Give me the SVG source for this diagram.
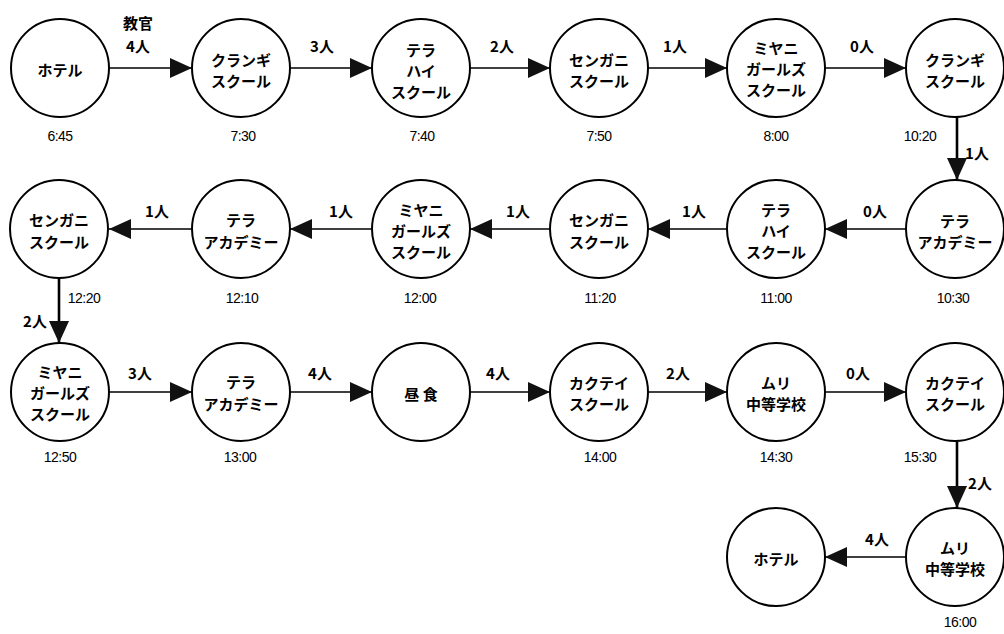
<svg xmlns="http://www.w3.org/2000/svg" width="1004" height="634" viewBox="0 0 1004 634">
<defs>
<style>
.n circle{fill:#fff;stroke:#000;stroke-width:2}
.n text,.lbl{font-family:"Noto Sans CJK JP","Liberation Sans",sans-serif;font-weight:bold;font-size:15px;fill:#000;text-anchor:middle;dominant-baseline:central}
.n text.t{font-family:"Liberation Sans","Noto Sans CJK JP",sans-serif;font-weight:normal;font-size:14px;letter-spacing:-0.5px}
.e{stroke:#000;stroke-width:1.3;fill:none}
.v{stroke:#000;stroke-width:2.6;fill:none}
.ah{fill:#111}
</style>
<marker id="a" viewBox="0 0 22 20" refX="22" refY="10" markerWidth="22" markerHeight="20" markerUnits="userSpaceOnUse" orient="auto">
<path class="ah" d="M0,0 L22,10 L0,20 Z"/>
</marker>
</defs>
<rect width="1004" height="634" fill="#fff"/>

<g id="connectors">
<line class="e" x1="109" y1="68" x2="192" y2="68" marker-end="url(#a)"/>
<line class="e" x1="290" y1="68" x2="372" y2="68" marker-end="url(#a)"/>
<line class="e" x1="470" y1="68" x2="550" y2="68" marker-end="url(#a)"/>
<line class="e" x1="648" y1="68" x2="727" y2="68" marker-end="url(#a)"/>
<line class="e" x1="825" y1="68" x2="906" y2="68" marker-end="url(#a)"/>
<line class="v" x1="957" y1="117" x2="957" y2="180" marker-end="url(#a)"/>
<line class="e" x1="906" y1="229" x2="825" y2="229" marker-end="url(#a)"/>
<line class="e" x1="727" y1="229" x2="648" y2="229" marker-end="url(#a)"/>
<line class="e" x1="550" y1="229" x2="470" y2="229" marker-end="url(#a)"/>
<line class="e" x1="372" y1="229" x2="290" y2="229" marker-end="url(#a)"/>
<line class="e" x1="192" y1="229" x2="109" y2="229" marker-end="url(#a)"/>
<line class="v" x1="59" y1="278" x2="59" y2="343" marker-end="url(#a)"/>
<line class="e" x1="109" y1="392" x2="192" y2="392" marker-end="url(#a)"/>
<line class="e" x1="290" y1="392" x2="372" y2="392" marker-end="url(#a)"/>
<line class="e" x1="470" y1="392" x2="550" y2="392" marker-end="url(#a)"/>
<line class="e" x1="648" y1="392" x2="727" y2="392" marker-end="url(#a)"/>
<line class="e" x1="825" y1="392" x2="906" y2="392" marker-end="url(#a)"/>
<line class="v" x1="957" y1="441" x2="957" y2="508" marker-end="url(#a)"/>
<line class="e" x1="906" y1="557" x2="825" y2="557" marker-end="url(#a)"/>

<text class="lbl" x="138" y="22">教官</text>
<text class="lbl" x="138" y="45">4人</text>
<text class="lbl" x="322" y="45">3人</text>
<text class="lbl" x="502" y="45">2人</text>
<text class="lbl" x="675" y="45">1人</text>
<text class="lbl" x="862" y="45">0人</text>
<text class="lbl" x="977" y="152">1人</text>
<text class="lbl" x="875" y="210">0人</text>
<text class="lbl" x="694" y="210">1人</text>
<text class="lbl" x="518" y="210">1人</text>
<text class="lbl" x="341" y="210">1人</text>
<text class="lbl" x="157" y="210">1人</text>
<text class="lbl" x="35" y="320">2人</text>
<text class="lbl" x="140" y="372">3人</text>
<text class="lbl" x="320" y="372">4人</text>
<text class="lbl" x="498" y="372">4人</text>
<text class="lbl" x="678" y="372">2人</text>
<text class="lbl" x="858" y="372">0人</text>
<text class="lbl" x="980" y="482">2人</text>
<text class="lbl" x="877" y="538">4人</text>
</g>

<g id="n1" class="n"><circle cx="60" cy="68" r="49"/><text x="60" y="69">ホテル</text><text class="t" x="60" y="136">6:45</text></g>
<g id="n2" class="n"><circle cx="241" cy="68" r="49"/><text x="241" y="59">クランギ</text><text x="241" y="80">スクール</text><text class="t" x="243" y="136">7:30</text></g>
<g id="n3" class="n"><circle cx="421" cy="68" r="49"/><text x="421" y="49">テラ</text><text x="421" y="70">ハイ</text><text x="421" y="91">スクール</text><text class="t" x="422" y="136">7:40</text></g>
<g id="n4" class="n"><circle cx="599" cy="68" r="49"/><text x="599" y="59">センガニ</text><text x="599" y="80">スクール</text><text class="t" x="599" y="136">7:50</text></g>
<g id="n5" class="n"><circle cx="776" cy="68" r="49"/><text x="776" y="47">ミヤニ</text><text x="776" y="68">ガールズ</text><text x="776" y="89">スクール</text><text class="t" x="776" y="136">8:00</text></g>
<g id="n6" class="n"><circle cx="955" cy="68" r="49"/><text x="955" y="59">クランギ</text><text x="955" y="80">スクール</text><text class="t" x="920" y="136">10:20</text></g>

<g id="n7" class="n"><circle cx="955" cy="229" r="49"/><text x="955" y="220">テラ</text><text x="955" y="241">アカデミー</text><text class="t" x="953" y="298">10:30</text></g>
<g id="n8" class="n"><circle cx="776" cy="229" r="49"/><text x="776" y="209">テラ</text><text x="776" y="230">ハイ</text><text x="776" y="251">スクール</text><text class="t" x="776" y="298">11:00</text></g>
<g id="n9" class="n"><circle cx="599" cy="229" r="49"/><text x="599" y="219">センガニ</text><text x="599" y="241">スクール</text><text class="t" x="600" y="298">11:20</text></g>
<g id="n10" class="n"><circle cx="421" cy="229" r="49"/><text x="421" y="209">ミヤニ</text><text x="421" y="230">ガールズ</text><text x="421" y="251">スクール</text><text class="t" x="420" y="298">12:00</text></g>
<g id="n11" class="n"><circle cx="241" cy="229" r="49"/><text x="241" y="219">テラ</text><text x="241" y="241">アカデミー</text><text class="t" x="242" y="298">12:10</text></g>
<g id="n12" class="n"><circle cx="59" cy="229" r="49"/><text x="59" y="219">センガニ</text><text x="59" y="241">スクール</text><text class="t" x="84" y="298">12:20</text></g>

<g id="n13" class="n"><circle cx="60" cy="392" r="49"/><text x="60" y="371">ミヤニ</text><text x="60" y="392">ガールズ</text><text x="60" y="413">スクール</text><text class="t" x="60" y="457">12:50</text></g>
<g id="n14" class="n"><circle cx="241" cy="392" r="49"/><text x="241" y="381">テラ</text><text x="241" y="403">アカデミー</text><text class="t" x="240" y="457">13:00</text></g>
<g id="n15" class="n"><circle cx="421" cy="392" r="49"/><text x="421" y="393">昼 食</text></g>
<g id="n16" class="n"><circle cx="599" cy="392" r="49"/><text x="599" y="382">カクテイ</text><text x="599" y="403">スクール</text><text class="t" x="600" y="457">14:00</text></g>
<g id="n17" class="n"><circle cx="776" cy="392" r="49"/><text x="776" y="382">ムリ</text><text x="776" y="403">中等学校</text><text class="t" x="776" y="457">14:30</text></g>
<g id="n18" class="n"><circle cx="955" cy="392" r="49"/><text x="955" y="382">カクテイ</text><text x="955" y="403">スクール</text><text class="t" x="920" y="457">15:30</text></g>

<g id="n19" class="n"><circle cx="955" cy="557" r="49"/><text x="955" y="547">ムリ</text><text x="955" y="568">中等学校</text><text class="t" x="960" y="622">16:00</text></g>
<g id="n20" class="n"><circle cx="776" cy="557" r="49"/><text x="776" y="558">ホテル</text></g>
</svg>
